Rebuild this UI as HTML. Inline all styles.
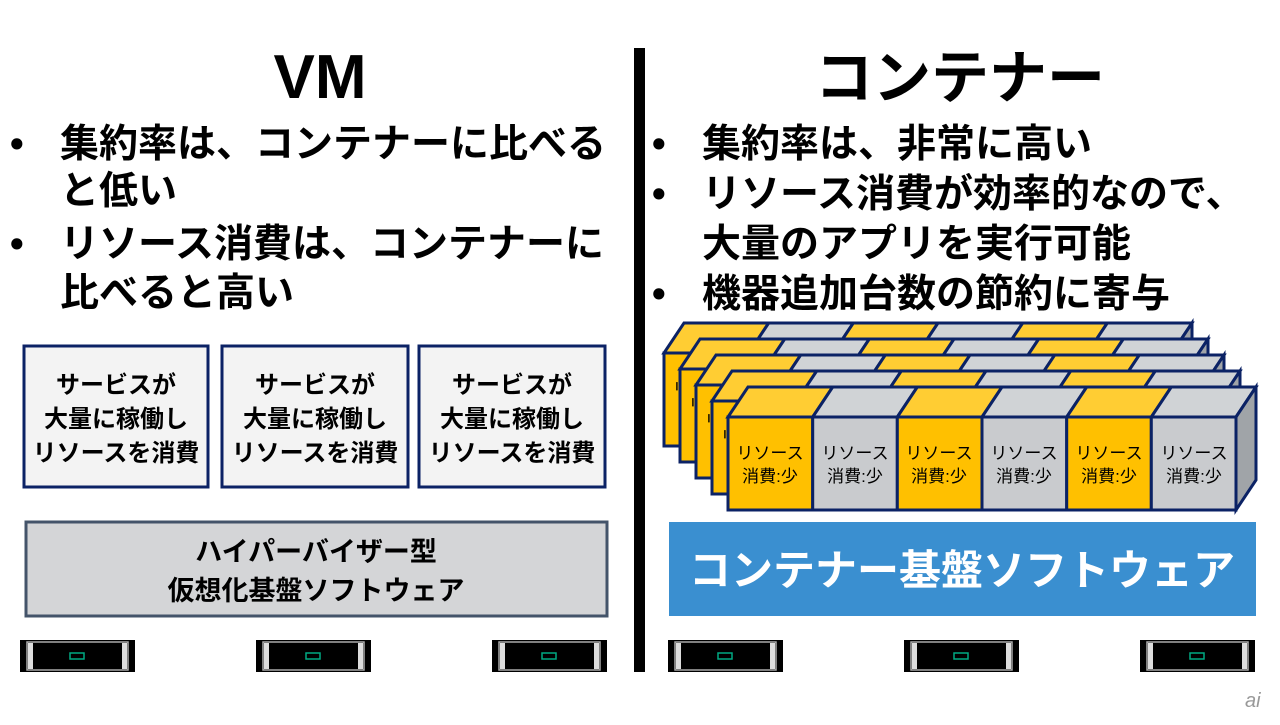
<!DOCTYPE html>
<html><head><meta charset="utf-8"><style>
body{margin:0;background:#fff}
svg text{font-family:"Liberation Sans","Noto Sans CJK JP",sans-serif}
</style></head><body>
<svg width="1280" height="720" viewBox="0 0 1280 720" xmlns="http://www.w3.org/2000/svg">
<rect width="1280" height="720" fill="#fff"/>
<rect x="634" y="48" width="11" height="624" fill="#000"/>
<g font-weight="bold" fill="#000">
<text x="320" y="98" font-size="62" text-anchor="middle">VM</text>
<text x="960" y="98" font-size="58" text-anchor="middle">コンテナー</text>
<g font-size="39">
<text x="10" y="157">•</text><text x="60" y="157">集約率は、コンテナーに比べる</text>
<text x="60" y="204">と低い</text>
<text x="10" y="257">•</text><text x="60" y="257">リソース消費は、コンテナーに</text>
<text x="60" y="306">比べると高い</text>
<text x="652" y="157">•</text><text x="702" y="157">集約率は、非常に高い</text>
<text x="652" y="207">•</text><text x="702" y="207">リソース消費が効率的なので、</text>
<text x="702" y="257">大量のアプリを実行可能</text>
<text x="652" y="307">•</text><text x="702" y="307">機器追加台数の節約に寄与</text>
</g>
</g>
<g stroke="#0b2265" stroke-width="3" fill="#f3f3f3">
<rect x="24" y="346" width="184" height="141"/>
<rect x="222" y="346" width="186" height="141"/>
<rect x="419" y="346" width="186" height="141"/>
</g>
<g font-size="24" font-weight="bold" text-anchor="middle" fill="#000">
<text x="116" y="393">サービスが</text><text x="116" y="427">大量に稼働し</text><text x="116" y="461">リソースを消費</text>
<text x="315" y="393">サービスが</text><text x="315" y="427">大量に稼働し</text><text x="315" y="461">リソースを消費</text>
<text x="512" y="393">サービスが</text><text x="512" y="427">大量に稼働し</text><text x="512" y="461">リソースを消費</text>
</g>
<rect x="26" y="522" width="581" height="94" fill="#d4d5d7" stroke="#44546a" stroke-width="3"/>
<text x="316" y="561" font-size="27" font-weight="bold" text-anchor="middle">ハイパーバイザー型</text>
<text x="316" y="600" font-size="27" font-weight="bold" text-anchor="middle">仮想化基盤ソフトウェア</text>
<rect x="669" y="522" width="587" height="94" fill="#3a8fd0"/>
<text x="962" y="585" font-size="42" font-weight="bold" fill="#fff" text-anchor="middle">コンテナー基盤ソフトウェア</text>
<defs>
<g id="layer" stroke="#0b2265" stroke-width="3" stroke-linejoin="miter">
<polygon points="0,0 20,-30 104.7,-30 84.7,0" fill="#ffcd33"/>
<polygon points="84.7,0 104.7,-30 189.3,-30 169.3,0" fill="#d0d3d6"/>
<polygon points="169.3,0 189.3,-30 274,-30 254,0" fill="#ffcd33"/>
<polygon points="254,0 274,-30 358.7,-30 338.7,0" fill="#d0d3d6"/>
<polygon points="338.7,0 358.7,-30 443.3,-30 423.3,0" fill="#ffcd33"/>
<polygon points="423.3,0 443.3,-30 528,-30 508,0" fill="#d0d3d6"/>
<polygon points="508,0 528,-30 528,63 508,93" fill="#a0a4a8"/>
<rect x="0" y="0" width="84.7" height="93" fill="#ffc000"/>
<rect x="84.7" y="0" width="84.6" height="93" fill="#c9cbce"/>
<rect x="169.3" y="0" width="84.7" height="93" fill="#ffc000"/>
<rect x="254" y="0" width="84.7" height="93" fill="#c9cbce"/>
<rect x="338.7" y="0" width="84.6" height="93" fill="#ffc000"/>
<rect x="423.3" y="0" width="84.7" height="93" fill="#c9cbce"/>
<g stroke="none" fill="#000" font-size="17" text-anchor="middle">
<text x="42" y="42">リソース</text><text x="42" y="65">消費:少</text>
<text x="127" y="42">リソース</text><text x="127" y="65">消費:少</text>
<text x="211" y="42">リソース</text><text x="211" y="65">消費:少</text>
<text x="296" y="42">リソース</text><text x="296" y="65">消費:少</text>
<text x="381" y="42">リソース</text><text x="381" y="65">消費:少</text>
<text x="466" y="42">リソース</text><text x="466" y="65">消費:少</text>
</g>
</g>
<g id="srv">
<rect x="0" y="0" width="115" height="32" fill="#000"/>
<rect x="7" y="2" width="101" height="28" fill="none" stroke="#aaa" stroke-width="1.5"/>
<rect x="8" y="3" width="5" height="26" fill="#ddd"/>
<rect x="102" y="3" width="5" height="26" fill="#ddd"/>
<rect x="15" y="3" width="85" height="26" rx="4" fill="#000"/>
<rect x="50" y="13" width="14" height="6" fill="none" stroke="#01a982" stroke-width="1.5"/>
</g>
</defs>
<use href="#layer" x="664" y="353"/>
<use href="#layer" x="680" y="369"/>
<use href="#layer" x="696" y="385"/>
<use href="#layer" x="712" y="401"/>
<use href="#layer" x="728" y="417"/>
<use href="#srv" x="20" y="640"/>
<use href="#srv" x="256" y="640"/>
<use href="#srv" x="492" y="640"/>
<use href="#srv" x="668" y="640"/>
<use href="#srv" x="904" y="640"/>
<use href="#srv" x="1140" y="640"/>
<text x="1245" y="707" font-size="20" font-style="italic" fill="#999">ai</text>
</svg>
</body></html>
